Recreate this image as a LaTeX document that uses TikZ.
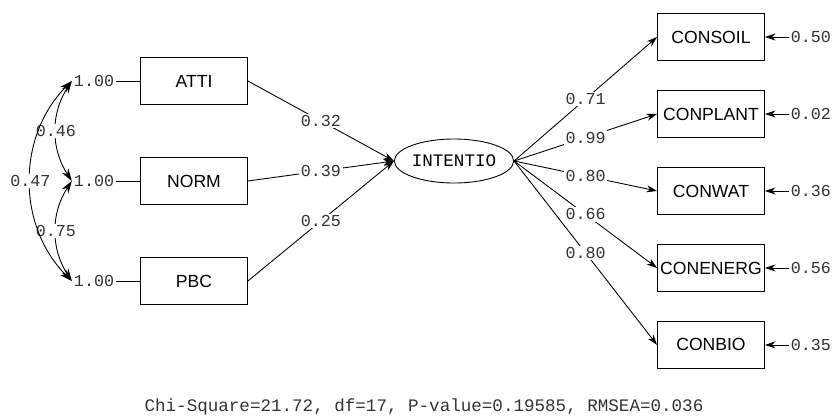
\documentclass[tikz,border=0pt]{standalone}
\usepackage{fontspec}
\setmainfont{Liberation Sans}
\setmonofont{Liberation Mono}
\usetikzlibrary{shapes.geometric, arrows.meta}
\tikzstyle{construct} = [rectangle, minimum width=2.14cm, minimum height=0.95cm, inner xsep=0.5pt, text centered, draw=black, font=\fontsize{10}{12}\selectfont]
\tikzstyle{latent} = [ellipse, minimum width=2.12cm, minimum height=0.88cm, inner sep=0pt, text centered, draw=black, font=\ttfamily\fontsize{10}{12}\selectfont]
\tikzstyle{coef} = [fill=white, inner sep=1pt, text=black!80, font=\ttfamily\fontsize{9.5}{11}\selectfont]
\tikzstyle{arrow} = [->,>={Stealth[length=6pt,width=4pt]}]
\tikzstyle{covar} = [<->,>={Stealth[length=7pt,width=4.5pt]}]

\begin{document}
\begin{tikzpicture}[x=0.02cm, y=-0.02cm, node distance=2cm, line width=0.5pt]
\useasboundingbox (0,0) rectangle (833,417);

\node (atti) [construct] at (194,81) {ATTI};
\node (norm) [construct, below of=atti] {NORM};
\node (pbc) [construct, below of=norm] {PBC};
\node (atti1) [coef, left of=atti] {1.00};
\node (norm1) [coef, left of=norm] {1.00};
\node (pbc1) [coef, left of=pbc] {1.00};

\node (intentio) [latent] at (454,161) {INTENTIO};

\node (soil) [construct] at (711,37) {CONSOIL};
\node (plant) [construct, below of=soil, yshift=0.46cm] {CONPLANT};
\node (wat) [construct, below of=plant, yshift=0.46cm] {CONWAT};
\node (energ) [construct, below of=wat, yshift=0.46cm] {CONENERG};
\node (bio) [construct, below of=energ, yshift=0.46cm] {CONBIO};

\node (esoil) [coef, right of=soil] {0.50};
\node (eplant) [coef, right of=plant] {0.02};
\node (ewat) [coef, right of=wat] {0.36};
\node (eenerg) [coef, right of=energ] {0.56};
\node (ebio) [coef, right of=bio] {0.35};

\node (fit) [font=\ttfamily\fontsize{10}{12}\selectfont, text=black!80] at (424,407) {Chi-Square=21.72, df=17, P-value=0.19585, RMSEA=0.036};

% variances and covariances
\draw (atti1) -- (atti);
\draw (norm1) -- (norm);
\draw (pbc1) -- (pbc);
\draw [covar] (atti1.west) to[bend right=33] node[coef] {0.46} (norm1.west);
\draw [covar] (norm1.west) to[bend right=33] node[coef] {0.75} (pbc1.west);
\draw [covar] (atti1.west) to[bend right=45] node[coef] {0.47} (pbc1.west);

% paths
\draw [arrow] (atti.east) -- node[coef] {0.32} (intentio.west);
\draw [arrow] (norm.east) -- node[coef] {0.39} (intentio.west);
\draw [arrow] (pbc.east) -- node[coef] {0.25} (intentio.west);

\draw [arrow] (intentio.east) -- node[coef] {0.71} (soil.west);
\draw [arrow] (intentio.east) -- node[coef] {0.99} (plant.west);
\draw [arrow] (intentio.east) -- node[coef] {0.80} (wat.west);
\draw [arrow] (intentio.east) -- node[coef] {0.66} (energ.west);
\draw [arrow] (intentio.east) -- node[coef] {0.80} (bio.west);

\draw [arrow] (esoil) -- (soil);
\draw [arrow] (eplant) -- (plant);
\draw [arrow] (ewat) -- (wat);
\draw [arrow] (eenerg) -- (energ);
\draw [arrow] (ebio) -- (bio);

\end{tikzpicture}
\end{document}
